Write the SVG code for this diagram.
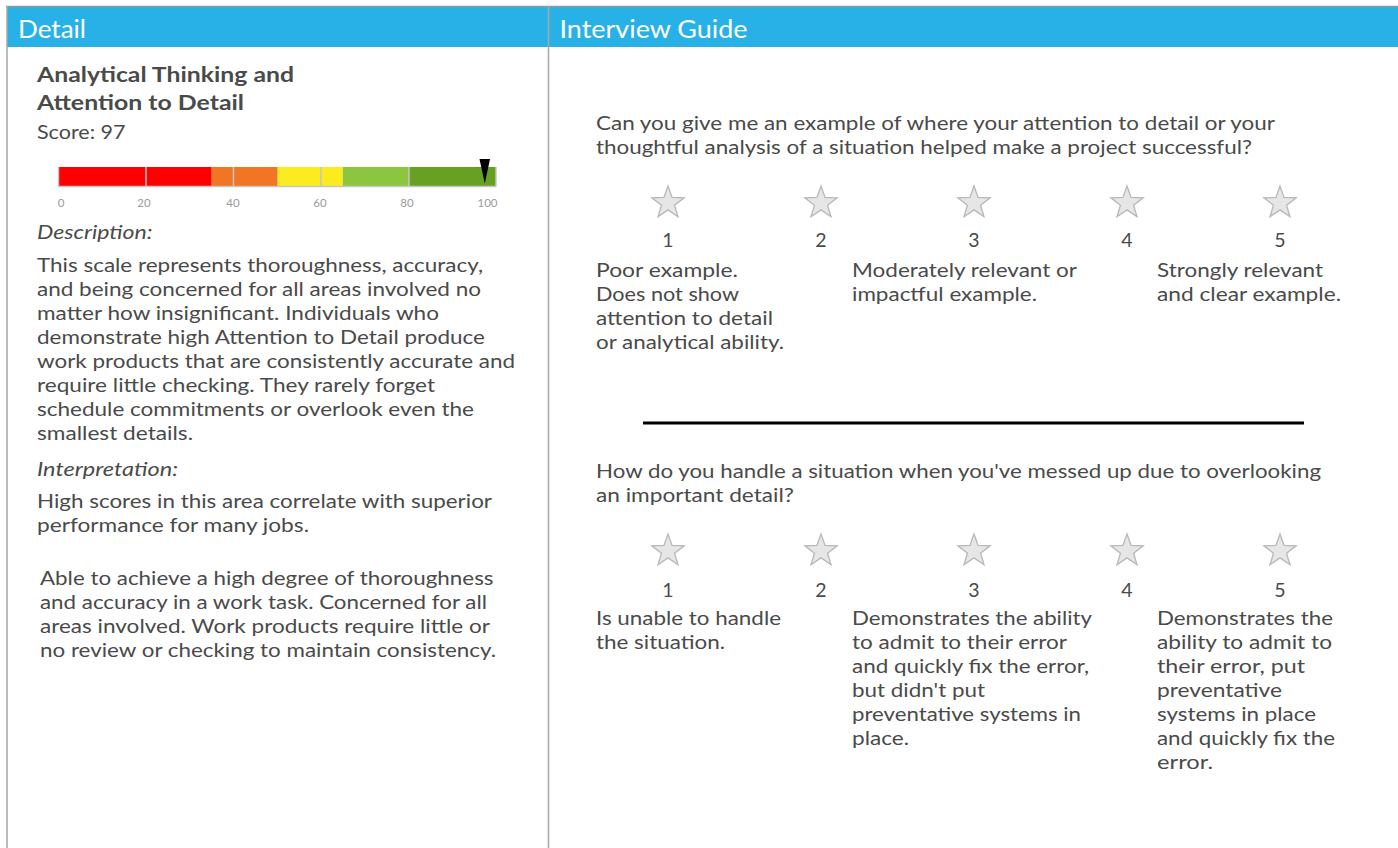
<svg xmlns="http://www.w3.org/2000/svg" width="1398" height="848" viewBox="0 0 1398 848">
<style>
.t{font-family:Lato,"Open Sans","Liberation Sans",sans-serif;fill:#4a4a4a;font-size:19.5px}
.h{font-family:Lato,"Open Sans","Liberation Sans",sans-serif;fill:#ffffff;font-size:25px}
.b{font-weight:bold;font-size:21px}
.i{font-style:italic}
.tick{font-family:Lato,"Open Sans","Liberation Sans",sans-serif;fill:#9a9a9a;font-size:11.5px;text-anchor:middle}
.n{text-anchor:middle}
.star{fill:#e6e6e6;stroke:#b8b8b8;stroke-width:1.3;stroke-linejoin:miter}
.grid{stroke:#c6c6c6;stroke-width:1.5}
</style>
<defs>
<path id="st" d="M0,-17 L4.06,-5.58 L16.17,-5.25 L6.56,2.13 L9.99,13.75 L0,6.9 L-9.99,13.75 L-6.56,2.13 L-16.17,-5.25 L-4.06,-5.58 Z"/>
</defs>
<rect width="1398" height="848" fill="#ffffff"/>
<g id="frame">
<rect x="7" y="7" width="1391" height="40" fill="#27b1e6"/>
<line x1="6" y1="6.5" x2="1398" y2="6.5" stroke="#999" stroke-width="1.5"/>
<line x1="7" y1="6" x2="7" y2="848" stroke="#a6a6a6" stroke-width="1.5"/>
<line x1="548.5" y1="6" x2="548.5" y2="848" stroke="#a6a6a6" stroke-width="1.5"/>
<text class="h" x="18" y="38" textLength="68" lengthAdjust="spacingAndGlyphs">Detail</text>
<text class="h" x="559.5" y="38" textLength="188" lengthAdjust="spacingAndGlyphs">Interview Guide</text>
</g>
<g id="detail-panel">
<text class="t b" x="37" y="82" textLength="257" lengthAdjust="spacingAndGlyphs">Analytical Thinking and</text>
<text class="t b" x="37" y="110" textLength="207" lengthAdjust="spacingAndGlyphs">Attention to Detail</text>
<text class="t" x="37" y="139" textLength="88.5" lengthAdjust="spacingAndGlyphs">Score: 97</text>
<g id="score-bar">
<rect x="58.5" y="167" width="153.2" height="19" fill="#ff0000"/>
<rect x="211.7" y="167" width="66" height="19" fill="#f27524"/>
<rect x="277.7" y="167" width="65" height="19" fill="#fcec1f"/>
<rect x="342.7" y="167" width="66.3" height="19" fill="#8cc63e"/>
<rect x="409" y="167" width="87" height="19" fill="#68a121"/>
<line class="grid" x1="58.5" y1="167" x2="58.5" y2="186"/>
<line class="grid" x1="146" y1="167" x2="146" y2="186"/>
<line class="grid" x1="233.5" y1="167" x2="233.5" y2="186"/>
<line class="grid" x1="321" y1="167" x2="321" y2="186"/>
<line class="grid" x1="409" y1="167" x2="409" y2="186"/>
<line class="grid" x1="496" y1="167" x2="496" y2="186"/>
<line x1="58" y1="186.5" x2="496.5" y2="186.5" stroke="#c6c6c6" stroke-width="1.5"/>
<polygon points="479.5,159 490,159 484.8,183.5" fill="#000"/>
<text class="tick" x="61" y="207">0</text>
<text class="tick" x="144" y="207">20</text>
<text class="tick" x="233" y="207">40</text>
<text class="tick" x="320" y="207">60</text>
<text class="tick" x="407" y="207">80</text>
<text class="tick" x="487.5" y="207">100</text>
</g>
<text class="t i" x="37" y="239" textLength="115.5" lengthAdjust="spacingAndGlyphs">Description:</text>
<text class="t" x="37" y="272" textLength="446" lengthAdjust="spacingAndGlyphs">This scale represents thoroughness, accuracy,</text>
<text class="t" x="37" y="296" textLength="444" lengthAdjust="spacingAndGlyphs">and being concerned for all areas involved no</text>
<text class="t" x="37" y="320" textLength="402" lengthAdjust="spacingAndGlyphs">matter how insignificant. Individuals who</text>
<text class="t" x="37" y="344" textLength="448" lengthAdjust="spacingAndGlyphs">demonstrate high Attention to Detail produce</text>
<text class="t" x="37" y="368" textLength="478" lengthAdjust="spacingAndGlyphs">work products that are consistently accurate and</text>
<text class="t" x="37" y="392" textLength="398" lengthAdjust="spacingAndGlyphs">require little checking. They rarely forget</text>
<text class="t" x="37" y="416" textLength="437" lengthAdjust="spacingAndGlyphs">schedule commitments or overlook even the</text>
<text class="t" x="37" y="440" textLength="156" lengthAdjust="spacingAndGlyphs">smallest details.</text>
<text class="t i" x="37" y="476" textLength="141" lengthAdjust="spacingAndGlyphs">Interpretation:</text>
<text class="t" x="37" y="508" textLength="455" lengthAdjust="spacingAndGlyphs">High scores in this area correlate with superior</text>
<text class="t" x="37" y="532" textLength="272" lengthAdjust="spacingAndGlyphs">performance for many jobs.</text>
<text class="t" x="40" y="585" textLength="453.5" lengthAdjust="spacingAndGlyphs">Able to achieve a high degree of thoroughness</text>
<text class="t" x="40" y="609" textLength="447" lengthAdjust="spacingAndGlyphs">and accuracy in a work task. Concerned for all</text>
<text class="t" x="40" y="633" textLength="450" lengthAdjust="spacingAndGlyphs">areas involved. Work products require little or</text>
<text class="t" x="40" y="657" textLength="456" lengthAdjust="spacingAndGlyphs">no review or checking to maintain consistency.</text>
</g>
<g id="question-1">
<text class="t" x="596" y="130" textLength="679" lengthAdjust="spacingAndGlyphs">Can you give me an example of where your attention to detail or your</text>
<text class="t" x="596" y="154" textLength="656" lengthAdjust="spacingAndGlyphs">thoughtful analysis of a situation helped make a project successful?</text>
<use href="#st" class="star" x="668" y="203"/>
<use href="#st" class="star" x="821" y="203"/>
<use href="#st" class="star" x="974" y="203"/>
<use href="#st" class="star" x="1127" y="203"/>
<use href="#st" class="star" x="1280" y="203"/>
<text class="t n" x="668" y="247">1</text>
<text class="t n" x="821" y="247">2</text>
<text class="t n" x="974" y="247">3</text>
<text class="t n" x="1127" y="247">4</text>
<text class="t n" x="1280" y="247">5</text>
<text class="t" x="596" y="277" textLength="142" lengthAdjust="spacingAndGlyphs">Poor example.</text>
<text class="t" x="596" y="301" textLength="143" lengthAdjust="spacingAndGlyphs">Does not show</text>
<text class="t" x="596" y="325" textLength="177" lengthAdjust="spacingAndGlyphs">attention to detail</text>
<text class="t" x="596" y="349" textLength="188" lengthAdjust="spacingAndGlyphs">or analytical ability.</text>
<text class="t" x="852" y="277" textLength="225" lengthAdjust="spacingAndGlyphs">Moderately relevant or</text>
<text class="t" x="852" y="301" textLength="185" lengthAdjust="spacingAndGlyphs">impactful example.</text>
<text class="t" x="1157" y="277" textLength="166" lengthAdjust="spacingAndGlyphs">Strongly relevant</text>
<text class="t" x="1157" y="301" textLength="184" lengthAdjust="spacingAndGlyphs">and clear example.</text>
</g>
<g id="divider">
<line x1="643" y1="423" x2="1304" y2="423" stroke="#000" stroke-width="3"/>
</g>
<g id="question-2">
<text class="t" x="596" y="478" textLength="725" lengthAdjust="spacingAndGlyphs">How do you handle a situation when you've messed up due to overlooking</text>
<text class="t" x="596" y="502" textLength="198" lengthAdjust="spacingAndGlyphs">an important detail?</text>
<use href="#st" class="star" x="668" y="551"/>
<use href="#st" class="star" x="821" y="551"/>
<use href="#st" class="star" x="974" y="551"/>
<use href="#st" class="star" x="1127" y="551"/>
<use href="#st" class="star" x="1280" y="551"/>
<text class="t n" x="668" y="597">1</text>
<text class="t n" x="821" y="597">2</text>
<text class="t n" x="974" y="597">3</text>
<text class="t n" x="1127" y="597">4</text>
<text class="t n" x="1280" y="597">5</text>
<text class="t" x="596" y="625" textLength="185" lengthAdjust="spacingAndGlyphs">Is unable to handle</text>
<text class="t" x="596" y="649" textLength="129" lengthAdjust="spacingAndGlyphs">the situation.</text>
<text class="t" x="852" y="625" textLength="240" lengthAdjust="spacingAndGlyphs">Demonstrates the ability</text>
<text class="t" x="852" y="649" textLength="215" lengthAdjust="spacingAndGlyphs">to admit to their error</text>
<text class="t" x="852" y="673" textLength="237" lengthAdjust="spacingAndGlyphs">and quickly fix the error,</text>
<text class="t" x="852" y="697" textLength="133" lengthAdjust="spacingAndGlyphs">but didn't put</text>
<text class="t" x="852" y="721" textLength="229" lengthAdjust="spacingAndGlyphs">preventative systems in</text>
<text class="t" x="852" y="745" textLength="57" lengthAdjust="spacingAndGlyphs">place.</text>
<text class="t" x="1157" y="625" textLength="176" lengthAdjust="spacingAndGlyphs">Demonstrates the</text>
<text class="t" x="1157" y="649" textLength="175" lengthAdjust="spacingAndGlyphs">ability to admit to</text>
<text class="t" x="1157" y="673" textLength="148" lengthAdjust="spacingAndGlyphs">their error, put</text>
<text class="t" x="1157" y="697" textLength="125" lengthAdjust="spacingAndGlyphs">preventative</text>
<text class="t" x="1157" y="721" textLength="159" lengthAdjust="spacingAndGlyphs">systems in place</text>
<text class="t" x="1157" y="745" textLength="178" lengthAdjust="spacingAndGlyphs">and quickly fix the</text>
<text class="t" x="1157" y="769" textLength="56" lengthAdjust="spacingAndGlyphs">error.</text>
</g>
</svg>
